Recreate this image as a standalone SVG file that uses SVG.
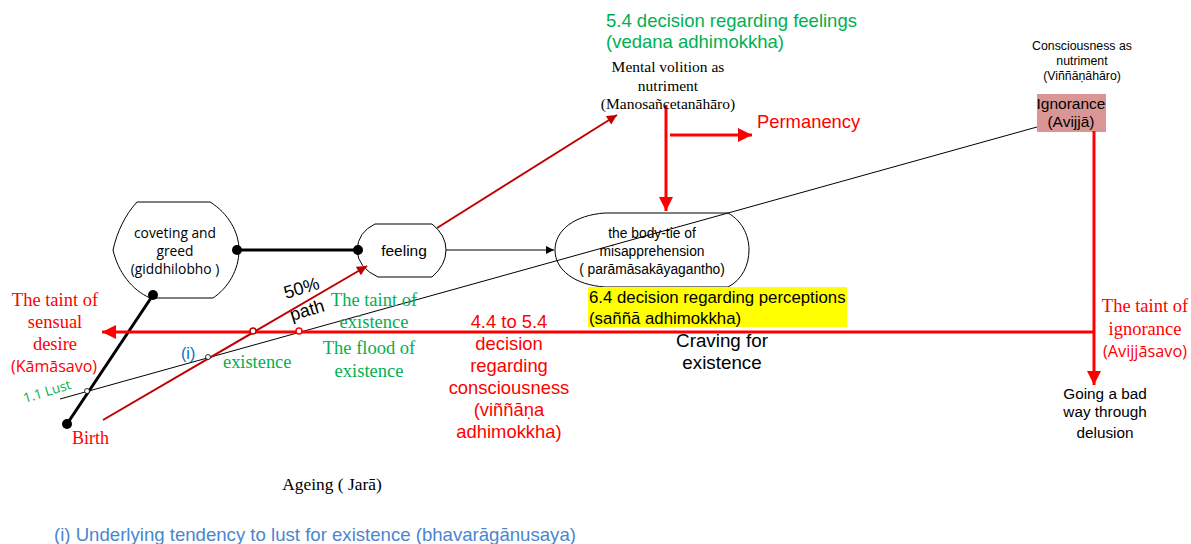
<svg xmlns="http://www.w3.org/2000/svg" width="1191" height="544" viewBox="0 0 1191 544">
<style>
.node{fill:#fff;stroke:#000;stroke-width:1}
.sans{font-family:"Liberation Sans",Arial,sans-serif}
.ser{font-family:"Liberation Serif","Times New Roman",serif}
.cal{font-family:"Open Sans","Liberation Sans",sans-serif}
.grn{fill:#00B050}
.red{fill:#FF0000}
.mid{text-anchor:middle}
.dot{fill:#000}
</style>
<defs>
<marker id="ab" viewBox="0 0 10 10" refX="10" refY="5" markerWidth="10" markerHeight="8" markerUnits="userSpaceOnUse" orient="auto"><path d="M0,0L10,5L0,10Z" fill="#000"/></marker>
<marker id="adr" viewBox="0 0 10 10" refX="10" refY="5" markerWidth="13" markerHeight="10" markerUnits="userSpaceOnUse" orient="auto"><path d="M0,0L10,5L0,10Z" fill="#C00000"/></marker>
<marker id="ar" viewBox="0 0 10 10" refX="10" refY="5" markerWidth="18" markerHeight="14" markerUnits="userSpaceOnUse" orient="auto"><path d="M0,0L10,5L0,10Z" fill="#FF0000"/></marker>
</defs>
<rect width="1191" height="544" fill="#fff"/>

<g id="coveting">
<path class="node" d="M137,202 L210,202 C228,213 239,232 239,250 C239,270 228,288 213,298 L150,298 C132,290 118,272 113,250 C117,232 125,215 137,202 Z"/>
<text class="cal mid" x="175" y="238" font-size="13.8">coveting and</text>
<text class="cal mid" x="175" y="256" font-size="13.8">greed</text>
<text class="cal mid" x="175" y="274" font-size="13.8">(giddhilobho )</text>
</g>

<g id="feeling">
<path class="node" d="M375,224 L432,224 Q446,235 446,250 Q446,265 432,277 L378,277 Q358,268 357,250 Q358,232 375,224 Z"/>
<text class="sans mid" x="404" y="256" font-size="15.5">feeling</text>
</g>

<g id="bodytie">
<path class="node" d="M605,213 L728,213 C744,222 749,238 749,250 C749,265 742,280 728,287 L605,287 C575,285 555,270 555,250 C555,230 575,215 605,213 Z"/>
<text class="sans mid" x="652" y="238" font-size="13.8">the body-tie of</text>
<text class="sans mid" x="652" y="256" font-size="13.8">misapprehension</text>
<text class="sans mid" x="652" y="274" font-size="13.8">( parāmāsakāyagantho)</text>
</g>

<g id="ignorance">
<rect x="1037" y="94" width="69" height="38" fill="#D99694"/>
<text class="sans mid" x="1071" y="109" font-size="15.5">Ignorance</text>
<text class="sans mid" x="1071" y="127" font-size="15.5">(Avijjā)</text>
</g>

<g id="connectors">
<line x1="60" y1="399" x2="1037" y2="127" stroke="#000" stroke-width="1"/>
<line x1="237" y1="250" x2="358" y2="250" stroke="#000" stroke-width="3"/>
<line x1="153" y1="295" x2="67" y2="424" stroke="#000" stroke-width="3"/>
<line x1="446" y1="250" x2="554" y2="250" stroke="#000" stroke-width="1" marker-end="url(#ab)"/>
<line x1="1093" y1="332" x2="102" y2="332" stroke="#FF0000" stroke-width="3" marker-end="url(#ar)"/>
<line x1="1094" y1="131" x2="1094" y2="385" stroke="#FF0000" stroke-width="3" marker-end="url(#ar)"/>
<line x1="666" y1="105" x2="666" y2="211" stroke="#FF0000" stroke-width="3" marker-end="url(#ar)"/>
<line x1="670" y1="135" x2="752" y2="135" stroke="#FF0000" stroke-width="3" marker-end="url(#ar)"/>
<line x1="103" y1="420" x2="367" y2="266" stroke="#C00000" stroke-width="2" marker-end="url(#adr)"/>
<line x1="437" y1="228" x2="617" y2="115" stroke="#C00000" stroke-width="2" marker-end="url(#adr)"/>
<circle class="dot" cx="153" cy="295" r="5"/>
<circle class="dot" cx="67" cy="424" r="5"/>
<circle class="dot" cx="237" cy="250" r="5"/>
<circle class="dot" cx="358" cy="250" r="5"/>
<circle cx="87" cy="391" r="2.5" fill="#fff" stroke="#000" stroke-width="0.8"/>
<circle cx="208" cy="357" r="2.5" fill="#fff" stroke="#000" stroke-width="0.8"/>
<circle cx="253" cy="331" r="3" fill="#fff" stroke="#C00000" stroke-width="1.5"/>
<circle cx="299" cy="331" r="3" fill="#fff" stroke="#FF0000" stroke-width="1.5"/>
</g>

<g id="labels">
<text class="sans mid" x="1082" y="50" font-size="12.3">Consciousness as</text>
<text class="sans mid" x="1082" y="65" font-size="12.3">nutriment</text>
<text class="sans mid" x="1082" y="80" font-size="12.3">(Viññāṇāhāro)</text>

<text class="sans grn" x="606" y="27" font-size="18.5">5.4 decision regarding feelings</text>
<text class="sans grn" x="606" y="48" font-size="18.5">(vedana adhimokkha)</text>

<text class="ser mid" x="668" y="72" font-size="15.5">Mental volition as</text>
<text class="ser mid" x="668" y="91" font-size="15.5">nutriment</text>
<text class="ser mid" x="668" y="109" font-size="15.5">(Manosañcetanāhāro)</text>

<text class="sans red" x="757" y="128" font-size="18.4">Permanency</text>

<text class="sans" font-size="18" transform="translate(286,299) rotate(-17)">50%</text>
<text class="sans" font-size="18" transform="translate(292,321) rotate(-17)">path</text>

<text class="ser grn mid" x="374" y="306" font-size="18.5">The taint of</text>
<text class="ser grn mid" x="374" y="328" font-size="18.5">existence</text>
<text class="ser grn mid" x="369" y="354" font-size="18.5">The flood of</text>
<text class="ser grn mid" x="369" y="377" font-size="18.5">existence</text>
<text class="ser grn" x="223" y="368" font-size="18.4">existence</text>

<text class="sans" x="181" y="359" font-size="16" fill="#0070C0">(i)</text>
<text class="cal grn" font-size="13.5" transform="translate(25,403) rotate(-17)">1.1 Lust</text>

<text class="ser red mid" x="55" y="306" font-size="18.5">The taint of</text>
<text class="ser red mid" x="55" y="328" font-size="18.5">sensual</text>
<text class="ser red mid" x="55" y="350" font-size="18.5">desire</text>
<text class="cal red mid" x="54" y="372" font-size="16">(Kāmāsavo)</text>
<text class="ser red" x="72" y="444" font-size="18">Birth</text>

<text class="sans red mid" x="509" y="328" font-size="18.4">4.4 to 5.4</text>
<text class="sans red mid" x="509" y="350" font-size="18.4">decision</text>
<text class="sans red mid" x="509" y="372" font-size="18.4">regarding</text>
<text class="sans red mid" x="509" y="394" font-size="18.4">consciousness</text>
<text class="sans red mid" x="509" y="416" font-size="18.4">(viññāṇa</text>
<text class="sans red mid" x="509" y="438" font-size="18.4">adhimokkha)</text>

<rect x="588" y="287" width="259" height="40" fill="#FFFF00"/>
<text class="sans" x="589" y="303" font-size="16.8">6.4 decision regarding perceptions</text>
<text class="sans" x="589" y="324" font-size="16.8">(saññā adhimokkha)</text>

<text class="sans mid" x="722" y="347" font-size="18.8">Craving for</text>
<text class="sans mid" x="722" y="369" font-size="18.8">existence</text>

<text class="ser red mid" x="1145" y="312" font-size="18.5">The taint of</text>
<text class="ser red mid" x="1145" y="335" font-size="18.5">ignorance</text>
<text class="cal red mid" x="1145" y="357" font-size="16.3">(Avijjāsavo)</text>

<text class="sans mid" x="1105" y="399" font-size="15.3">Going a bad</text>
<text class="sans mid" x="1105" y="417" font-size="15.3">way through</text>
<text class="sans mid" x="1105" y="438" font-size="15.3">delusion</text>

<text class="ser mid" x="332" y="490" font-size="17.4">Ageing ( Jarā)</text>

<text class="sans" x="54" y="541" font-size="18.6" fill="#4A86D0">(i) Underlying tendency to lust for existence (bhavarāgānusaya)</text>
</g>
</svg>
